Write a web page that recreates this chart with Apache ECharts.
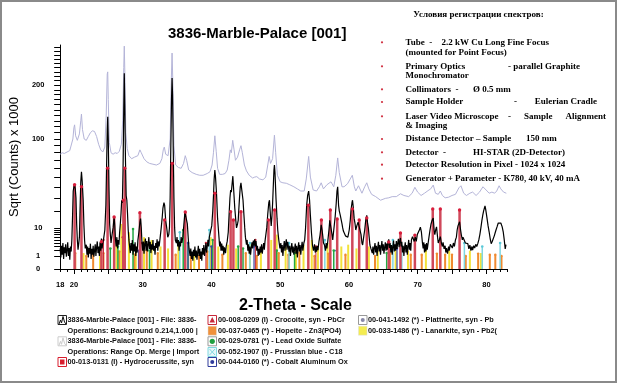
<!DOCTYPE html>
<html><head><meta charset="utf-8">
<script src="https://cdn.jsdelivr.net/npm/echarts@6/dist/echarts.min.js"></script>
<style>html,body{margin:0;padding:0;background:#fff}#c{width:618px;height:384px}</style>
</head><body><div id="c"></div>
<script>
// ---- axis definitions ----
const xTickLabels = [18, 20, 30, 40, 50, 60, 70, 80];
const xMinorTicks = [18,19,20,21,22,23,24,25,26,27,28,29,30,31,32,33,34,35,36,37,38,39,40,41,42,43,44,45,46,47,48,49,50,51,52,53,54,55,56,57,58,59,60,61,62,63,64,65,66,67,68,69,70,71,72,73,74,75,76,77,78,79,80,81,82,83];
const xMajorTicks = [20,25,30,35,40,45,50,55,60,65,70,75,80];
const yTickLabels = [0, 1, 10, 100, 200];
const yTickMarks = [0,1,2,3,4,5,6,7,8,9,10,20,30,40,50,60,70,80,90,100,110,120,130,140,150,160,170,180,190,200,210,220,230,240,250,260,270,280,290];
const xMin = 18, xMax = 83, yMaxCounts = 297;

// ---- measured pattern (background subtracted), [2theta, counts x1000] ----
const measured = [[18.0,2.5],[18.1,0.8],[18.2,3.2],[18.3,1.2],[18.4,4.0],[18.5,0.6],[18.6,2.8],[18.7,1.5],[18.8,3.6],[18.9,0.9],[19.0,2.2],[19.1,4.2],[19.2,1.0],[19.3,2.6],[19.4,0.5],[19.5,3.0],[19.6,1.8],
[19.7,5],[19.8,16],[19.9,36],[20.0,40],[20.1,42],[20.2,38],[20.3,30],[20.4,12],[20.5,5],[20.6,2.2],[20.7,3.8],
[20.8,6],[20.9,22],[21.0,45],[21.1,56],[21.2,46],[21.35,28],[21.45,12],[21.55,5],[21.65,2.5],
[21.8,3.5],[21.9,1.2],[22.0,3.0],[22.1,0.8],[22.2,2.6],[22.3,1.4],[22.4,3.8],[22.5,0.6],[22.6,2.4],[22.7,1.2],[22.8,3.2],[22.9,0.9],[23.0,2.0],[23.1,3.6],[23.2,1.0],[23.3,2.8],[23.4,4.5],[23.5,1.5],[23.6,3.0],[23.7,1.0],[23.8,4.2],[23.9,2.0],[24.0,5.5],[24.1,2.5],[24.2,4.0],
[24.3,5],[24.5,9],[24.65,24],[24.75,60],[24.85,115],[24.92,137],[25.0,100],[25.1,40],[25.2,12],[25.3,7],
[25.4,4],[25.55,7],[25.7,10],[25.85,16],[25.95,11],[26.05,5],[26.15,3],[26.25,6],[26.35,2.5],[26.45,5],[26.55,3.5],[26.65,8],[26.75,12],[26.85,18],[26.95,28],[27.05,26],[27.15,60],[27.25,150],[27.33,227],[27.4,160],[27.5,70],[27.6,32],[27.7,28],[27.8,18],[27.9,9],[28.0,5],[28.1,3],
[28.2,1.5],[28.3,4.0],[28.4,2.0],[28.5,5.0],[28.6,1.2],[28.7,3.6],[28.8,1.8],[28.9,4.2],[29.0,1.0],[29.1,3.0],[29.2,1.6],[29.3,4.8],[29.45,8],[29.6,13],[29.7,15],[29.8,10],[29.9,4],[30.0,2],[30.1,4.5],[30.2,1.4],[30.3,3.8],[30.4,5.5],[30.5,2.0],[30.6,4.6],[30.7,1.8],[30.8,3.4],[30.9,6],[31.0,2.4],[31.1,4.4],[31.2,1.5],[31.3,3.6],[31.4,2.2],[31.5,5.0],[31.6,2.0],[31.7,3.2],[31.8,1.2],[31.9,4.0],[32.0,2.6],[32.1,5.2],[32.2,2.0],[32.3,4.5],[32.4,3.0],
[32.55,6],[32.7,10],[32.85,16],[32.95,22],[33.1,26],[33.2,24],[33.35,14],[33.5,10],[33.65,6],[33.8,7],[33.9,10],[34.0,30],[34.1,90],[34.2,170],[34.28,216],[34.35,180],[34.45,85],[34.55,30],[34.65,10],[34.75,5],
[34.9,4],[35.0,6],[35.1,3],[35.2,5],[35.3,2],[35.4,4.5],[35.5,3],[35.6,6],[35.7,4],[35.85,6],[36.0,12],[36.15,19],[36.25,17],[36.4,18],[36.5,12],[36.65,5],[36.75,2.5],
[36.9,1.0],[37.0,2.5],[37.1,0.6],[37.2,1.8],[37.3,0.4],[37.4,2.2],[37.5,1.0],[37.6,3.0],[37.7,0.8],[37.8,2.0],[37.9,0.5],[38.0,1.6],[38.1,3.2],[38.2,1.0],[38.3,2.4],[38.4,0.6],[38.5,1.8],[38.6,0.4],[38.7,2.6],[38.8,1.2],[38.9,3.4],[39.0,1.0],[39.1,2.2],[39.2,4.0],[39.3,1.6],[39.4,3.0],[39.5,5.0],[39.6,3.0],
[39.7,6],[39.85,8],[40.05,11],[40.2,20],[40.3,31],[40.4,48],[40.5,58],[40.6,50],[40.75,33],[40.9,15],[41.1,6],[41.2,3],[41.3,4.5],[41.4,2],[41.5,3.8],[41.6,2],[41.7,3.2],[41.8,1.2],[41.9,2.8],[42.05,1.5],[42.15,3.0],[42.3,4.5],
[42.45,8],[42.6,20],[42.7,30],[42.8,37],[42.9,35],[43.0,42],[43.12,51],[43.25,36],[43.4,22],[43.55,14],[43.65,10],[43.8,12],[43.9,14],[44.0,22],[44.1,31],[44.2,40],[44.3,44],[44.4,38],[44.6,28],[44.75,16],[44.85,10],[44.95,6],
[45.1,3.5],[45.2,5],[45.3,2],[45.4,3.6],[45.5,1.4],[45.6,3.0],[45.7,1.2],[45.8,2.6],[45.9,4.2],[46.0,2.5],[46.1,4.8],[46.2,3.2],[46.3,5.2],[46.4,3.0],[46.5,4.6],[46.6,2.0],[46.7,3.2],[46.8,1.0],[46.9,2.4],[47.0,1.2],[47.1,3.0],[47.2,1.6],[47.3,3.6],[47.4,1.4],[47.5,2.6],[47.6,4.0],[47.7,2.2],[47.8,4.6],
[47.9,5],[48.05,10],[48.2,18],[48.35,26],[48.45,28],[48.6,16],[48.7,11],[48.8,16],[48.9,25],[49.0,40],[49.1,58],[49.17,64],[49.25,55],[49.4,29],[49.55,15],[49.65,9],[49.8,5],[49.97,2.5],
[50.1,4.0],[50.2,1.6],[50.3,3.4],[50.4,1.0],[50.5,2.8],[50.6,4.6],[50.7,2.0],[50.8,3.8],[50.9,5.2],[51.0,2.2],[51.1,4.4],[51.2,5.0],[51.3,1.8],[51.4,3.2],[51.5,1.0],[51.6,2.6],[51.7,4.0],[51.8,1.6],[51.9,3.0],[52.0,1.2],[52.1,2.4],[52.2,3.8],[52.3,1.4],[52.4,3.2],[52.5,0.8],[52.6,2.6],[52.7,4.2],[52.8,1.8],[52.9,3.4],[53.0,1.2],[53.1,2.8],[53.2,4.4],[53.3,2.0],[53.45,4.0],
[53.57,5],[53.7,10],[53.86,24],[54.0,32],[54.15,36],[54.28,28],[54.4,17],[54.55,8],[54.7,3.4],[54.85,2.0],[55.0,3.6],[55.1,1.6],[55.2,3.0],[55.3,1.8],[55.4,3.2],[55.5,2.1],
[55.65,4.5],[55.8,6.8],[55.97,11.5],[56.1,9],[56.2,6.5],[56.3,4],[56.45,3.4],[56.6,2],[56.7,4],[56.8,2.5],[56.93,4.5],[57.1,9],[57.22,14],[57.3,12],[57.4,11.5],[57.55,7],[57.65,5],[57.8,9],[58.0,16],[58.15,25],[58.27,36],[58.37,40],[58.5,24],[58.6,20],[58.75,17],[58.85,16],[59.0,12],[59.1,10],[59.2,8.5],[59.33,8],[59.5,6.5],[59.67,7],[59.85,6],
[60.05,9],[60.2,14],[60.3,20],[60.45,26],[60.53,28],[60.65,22],[60.77,15],[60.9,12],[61.0,9],[61.15,11],[61.34,13],[61.5,14],[61.6,12],[61.77,7],[61.9,4],[62.0,3.4],[62.15,6],[62.3,9],[62.45,14],[62.6,17],[62.7,13],[62.83,10],[62.95,6],[63.06,3.4],[63.2,2.5],
[63.4,1.5],[63.5,3.0],[63.6,1.2],[63.7,2.6],[63.8,4.0],[63.9,1.6],[64.0,3.2],[64.1,1.0],[64.2,2.8],[64.3,4.4],[64.4,1.8],[64.5,3.4],[64.6,1.2],[64.7,3.0],[64.8,4.6],[64.9,2.0],[65.0,3.6],[65.1,1.4],[65.2,2.8],[65.3,4.2],[65.4,2.0],[65.5,3.8],[65.6,2.2],[65.7,4.4],[65.8,5.2],[65.9,2.6],[66.0,4.0],[66.1,1.6],[66.2,3.4],[66.3,1.2],[66.4,3.0],[66.5,4.8],[66.6,1.8],[66.7,3.6],[66.8,2.0],[66.9,4.6],[67.0,2.4],[67.1,4.0],[67.2,5.4],[67.3,2.8],[67.4,4.6],[67.5,5.7],[67.6,3.0],[67.7,4.4],[67.8,1.6],[67.9,3.2],[68.0,1.0],[68.1,2.8],[68.2,4.2],[68.3,1.6],[68.4,3.4],[68.5,1.2],[68.6,3.0],[68.7,5.0],[68.8,2.2],[68.9,4.0],[69.0,2.0],
[69.1,5.0],[69.25,6.2],[69.4,6.5],[69.5,4.5],[69.65,6.0],[69.8,4.5],[69.95,7],[70.1,8],[70.25,9],[70.4,10.4],[70.55,8],[70.7,4],[70.8,2.5],[70.9,4.2],[71.0,1.6],[71.1,3.6],[71.2,1.8],[71.3,4.0],[71.4,2.2],[71.5,3.6],
[71.65,6],[71.8,9],[71.95,12],[72.1,14],[72.27,15.4],[72.4,9],[72.5,7],[72.62,9],[72.75,10.5],[72.9,6],[73.0,4],[73.15,5],[73.3,6.2],[73.45,4],[73.6,3.0],[73.7,4.2],[73.85,2.4],[74.0,3.2],[74.1,1.6],[74.2,2.6],[74.35,1.4],[74.5,3.0],[74.6,2.0],[74.75,3.6],[74.9,4.2],[75.05,2.6],[75.2,4.0],[75.35,3.0],
[75.5,5],[75.64,6],[75.75,9],[75.87,11],[76.0,12],[76.1,13.2],[76.25,9],[76.35,7],[76.5,5],[76.6,6],[76.7,5.5],[76.8,5.5],[76.95,4],[77.1,4.4],[77.3,3.8],[77.45,2.4],[77.6,3.4],[77.75,2.0],[77.9,3.0],[78.0,2.1],[78.15,3.2],[78.3,2.6],[78.45,3.6],[78.6,3.0],[78.75,3.8],
[78.9,5],[79.05,7],[79.2,10],[79.35,14],[79.47,17],[79.6,20],[79.72,22],[79.8,23.5],[79.9,21],[80.0,18],[80.1,15],[80.25,11],[80.4,8.2],[80.55,5.5],[80.7,3.8],[80.85,4.5],[81.0,5],[81.15,6.5],[81.3,8],[81.4,9],[81.55,10.5],[81.73,12.5],[81.85,13],[82.0,13.2],[82.1,12.5],[82.2,11.5],[82.3,10.5],[82.45,8.2],[82.6,5],[82.74,2.4],[82.85,3.5],[82.9,3.4]];

// ---- raw pattern (before background subtraction) ----
const rawPattern = [[18.0,78],[18.3,80],[18.6,79],[19.0,81],[19.4,83],[19.6,84],[19.85,100],[20.0,118],[20.1,123],[20.25,105],[20.5,98],[20.8,108],[21.0,130],[21.1,142],[21.25,115],[21.5,100],[21.8,98],[22.1,104],[22.4,110],[22.7,113],[23.0,112],[23.3,104],[23.6,92],[23.9,84],[24.2,81],[24.5,88],[24.7,140],[24.85,225],[24.92,230],[25.0,170],[25.15,95],[25.4,80],[25.7,78],[26.0,80],[26.3,79],[26.6,82],[26.9,92],[27.1,130],[27.25,240],[27.33,294],[27.42,220],[27.55,110],[27.75,86],[28.0,76],[28.4,72],[28.8,74],[29.3,76],[29.6,84],[29.8,80],[30.2,72],[30.6,68],[31.0,66],[31.5,65],[32.0,64],[32.5,66],[32.8,72],[33.0,84],[33.15,88],[33.35,78],[33.7,76],[34.0,100],[34.15,200],[34.28,276],[34.4,200],[34.55,90],[34.8,64],[35.2,61],[35.6,60],[35.95,66],[36.2,76],[36.4,70],[36.7,58],[37.2,55],[37.8,53],[38.3,52],[38.8,52],[39.4,54],[39.8,56],[40.1,64],[40.3,80],[40.5,105],[40.7,82],[40.9,60],[41.2,53],[41.6,53],[42.0,54],[42.3,58],[42.55,70],[42.75,84],[42.9,80],[43.1,98],[43.3,84],[43.5,70],[43.8,74],[44.1,84],[44.3,90],[44.5,80],[44.8,64],[45.1,57],[45.5,52],[46.0,49],[46.3,50],[46.6,50.5],[47.0,48],[47.5,47],[47.9,50],[48.2,64],[48.4,75],[48.6,66],[48.9,72],[49.17,106],[49.35,80],[49.6,52],[50.0,45],[50.4,44],[50.9,43.5],[51.4,42],[52.0,40],[52.5,38],[53.0,36],[53.5,36],[53.8,48],[54.15,75],[54.4,50],[54.8,37],[55.3,36],[55.7,40],[55.97,44],[56.3,38],[56.8,42],[57.4,45],[57.8,40],[58.1,52],[58.37,73],[58.6,55],[59.0,40],[59.3,40],[59.8,43],[60.2,48],[60.5,52],[60.8,40],[61.0,36],[61.4,41],[61.6,40],[61.9,34],[62.3,40],[62.6,44],[62.9,38],[63.3,33],[63.9,31],[64.6,28],[65.3,29.5],[65.8,30],[66.3,31],[66.9,31],[67.5,33.5],[68.0,32],[68.7,31],[69.2,34],[69.6,39.5],[70.0,35],[70.5,32],[71.0,34],[71.5,36.3],[71.9,38],[72.27,41.7],[72.6,34],[73.0,33],[73.3,36],[73.6,32],[74.0,30],[74.5,30.5],[75.0,32],[75.5,33],[76.0,39],[76.3,41],[76.7,34],[77.1,32],[77.6,34],[78.0,35],[78.5,32],[79.0,35],[79.5,40],[79.75,41],[80.1,36],[80.4,34],[80.8,35],[81.2,34],[81.5,36],[81.85,41],[82.1,38],[82.5,35],[82.9,34]];

// ---- reference patterns (stick positions, heights) ----
const hydrocerussite = [[20.1,42],[21.1,40],[24.0,4.4],[24.9,60],[25.85,16],[27.2,28],[27.4,60],[29.6,18.8],[33.2,14.2],[34.3,66],[36.2,19.2],[40.5,34],[42.8,19.4],[43.2,14.2],[44.3,19.4],[48.3,14.2],[49.2,20.6],[54.1,24],[56.0,14.2],[57.3,20.6],[58.3,14.8],[60.5,21.3],[61.5,14.2],[62.6,15.4],[65.8,4.3],[67.5,7.7],[69.6,6.8],[72.2,21.3],[73.3,21.3],[76.1,20.6]];
const leadOxideSulfate = [[25.3,2.5],[26.4,3],[28.6,9.5],[31.0,2],[35.9,9],[36.6,4],[40.2,5],[43.9,3],[44.6,2.5],[49.5,2],[52.1,1.5],[57.8,2],[65.5,1.5]];
const lanarkite = [[21.4,1.5],[23.8,3],[26.2,4],[26.9,12],[28.0,8],[29.0,3],[30.2,6],[31.3,5],[32.6,3],[33.7,2.5],[35.2,4],[37.5,2],[39.9,6],[41.0,3],[42.4,3.5],[43.6,2.5],[45.6,4],[47.2,2],[48.7,5],[49.5,7],[50.8,3],[52.3,2],[53.4,3.5],[54.6,5],[55.5,3],[56.9,4],[58.9,3],[59.9,3.5],[61.1,2.5],[62.9,3],[64.2,2],[66.8,3],[68.6,2],[71.2,2.5],[74.6,2],[77.6,2],[79.2,1.5]];
const hopeite = [[20.2,1.5],[21.8,1],[22.8,2],[24.3,1.5],[26.6,1.8],[28.8,1.2],[30.6,2],[32.2,1.5],[34.8,1.2],[37.0,1.5],[38.2,1],[39.4,1.8],[41.6,1.2],[45.0,1.5],[46.6,1],[49.8,1.5],[51.2,1.2],[52.8,1.6],[55.0,1],[57.0,1.4],[59.5,1.2],[63.8,1],[66.0,1.5],[69.0,1.2],[70.6,1.2],[72.8,1.4],[74.0,1.2],[75.0,1.2],[77.0,1],[78.8,1.4],[80.5,1.2],[81.3,1.2],[82.2,1]];
const prussianBlue = [[35.4,8],[39.7,9],[45.6,4],[51.3,4],[56.5,5],[66.4,5],[67.7,3],[76.8,4],[79.4,3],[82.0,4]];
const cobaltAluminum = [[29.4,2],[36.6,4],[40.0,3],[46.2,3],[58.2,2],[67.0,2.5]];
const crocoite = [[24.3,5],[27.1,6],[29.9,4],[39.2,4],[46.4,5],[55.2,3]];

// ---- texts ----
const chartTitle = '3836-Marble-Palace [001]';
const yAxisName = 'Sqrt (Counts) x 1000';
const xAxisName = '2-Theta - Scale';
const infoHeading = 'Условия регистрации спектров:';
// [text, x, align] parts, then y, then bullet flag
const infoLines = [
  [['Tube  -', 405.5], ['2.2 kW Cu Long Fine Focus', 441.5], 42.3, true],
  [['(mounted for Point Focus)', 405.5], 52.3, false],
  [['Primary Optics', 405.5], ['- parallel Graphite', 580, 'right'], 66.3, true],
  [['Monochromator', 405.5], 76, false],
  [['Collimators  -', 405.5], ['Ø 0.5 mm', 473], 89.3, true],
  [['Sample Holder', 405.5], ['-', 514], ['Eulerian Cradle', 597, 'right'], 102, true],
  [['Laser Video Microscope', 405.5], ['-', 508], ['Sample', 524], ['Alignment', 606, 'right'], 116.3, true],
  [['& Imaging', 405.5], 126, false],
  [['Distance Detector – Sample', 405.5], ['150 mm', 526], 139, true],
  [['Detector  -', 405.5], ['HI-STAR (2D-Detector)', 473], 152.3, true],
  [['Detector Resolution in Pixel - 1024 x 1024', 405.5], 164.7, true],
  [['Generator + Parameter - K780, 40 kV, 40 mA', 405.5], 178.7, true]
];
const legendItems = [
  {col:0,row:0,icon:'chart',color:'#111',text:'3836-Marble-Palace [001] - File: 3836-'},
  {col:0,row:1,icon:'none',color:'#111',text:'Operations: Background 0.214,1.000 |'},
  {col:0,row:2,icon:'chartLight',color:'#bbb',text:'3836-Marble-Palace [001] - File: 3836-'},
  {col:0,row:3,icon:'none',color:'#111',text:'Operations: Range Op. Merge | Import'},
  {col:0,row:4,icon:'square',color:'#d81e2e',text:'00-013-0131 (I) - Hydrocerussite, syn'},
  {col:1,row:0,icon:'triangle',color:'#c8283a',text:'00-008-0209 (I) - Crocoite, syn - PbCr'},
  {col:1,row:1,icon:'fill',color:'#f0903a',text:'00-037-0465 (*) - Hopeite - Zn3(PO4)'},
  {col:1,row:2,icon:'circle',color:'#20a040',text:'00-029-0781 (*) - Lead Oxide Sulfate'},
  {col:1,row:3,icon:'cross',color:'#80d8e0',text:'00-052-1907 (I) - Prussian blue - C18'},
  {col:1,row:4,icon:'dot',color:'#303c9c',text:'00-044-0160 (*) - Cobalt Aluminum Ox'},
  {col:2,row:0,icon:'dotGray',color:'#8888a8',text:'00-041-1492 (*) - Plattnerite, syn - Pb'},
  {col:2,row:1,icon:'fill',color:'#f4ec50',text:'00-033-1486 (*) - Lanarkite, syn - Pb2('}
];

// ---- build ----
const sq = v => Math.sqrt(v);
function stickSeries(name, data, color, width, dotR, dotColor, z) {
  return {
    type: 'custom', name, coordinateSystem: 'cartesian2d', z: z, silent: true,
    data: data.map(d => [d[0], sq(d[1])]),
    renderItem(params, api) {
      const x = api.value(0), y = api.value(1);
      const p0 = api.coord([x, 0]), p1 = api.coord([x, y]);
      const ch = [{type:'line', shape:{x1:p0[0],y1:p0[1],x2:p1[0],y2:p1[1]}, style:{stroke:color,lineWidth:width}}];
      if (dotR) ch.push({type:'circle', shape:{cx:p1[0],cy:p1[1],r:dotR}, style:{fill:dotColor}});
      return {type:'group', children: ch};
    }
  };
}

const graphics = [];
graphics.push({type:'rect', shape:{x:1,y:1,width:615,height:381}, style:{fill:'none',stroke:'#8a8a8a',lineWidth:2}, z:100});
function txt(s, x, y, font, fill, align) {
  graphics.push({type:'text', z:50, style:{text:s, x:x, y:y, font:font, fill:fill||'#000', textAlign:align||'left', align:align||'left', textVerticalAlign:'middle', verticalAlign:'middle'}});
}
txt(chartTitle, 168, 34, 'bold 15px "Liberation Sans", Arial', '#000');
txt(xAxisName, 295.5, 305.5, 'bold 16px "Liberation Sans", Arial', '#000', 'center');
const serif = 'bold 9px "Liberation Serif", "Times New Roman", serif';
txt(infoHeading, 478.5, 15, serif, '#000', 'center');
infoLines.forEach(line => {
  const parts = line.filter(p => Array.isArray(p));
  const y = line.find(p => typeof p === 'number');
  const bullet = line[line.length - 1] === true;
  parts.forEach(p => txt(p[0], p[1], y, serif, '#000', p[2] || 'left'));
  if (bullet) graphics.push({type:'circle', z:50, shape:{cx:382, cy:y, r:1.1}, style:{fill:'#d03040'}});
});
const colIconX = [58, 208, 358.5], colTextX = [67.5, 218, 368];
const rowY = [320, 330.7, 341.3, 352, 362];
const lgFont = 'bold 7.3px "Liberation Sans", Arial';
legendItems.forEach(it => {
  const x = colIconX[it.col], y = rowY[it.row], c = it.color;
  const box = (stroke, fill) => graphics.push({type:'rect', z:50, shape:{x:x, y:y-4.5, width:8.5, height:9}, style:{fill:fill||'#fff', stroke:stroke, lineWidth:1}});
  if (it.icon === 'chart' || it.icon === 'chartLight') {
    box(it.icon === 'chart' ? '#222' : '#ccc');
    graphics.push({type:'polyline', z:51, shape:{points:[[x+1,y+4],[x+2.5,y],[x+3.5,y+3],[x+5,y-3.5],[x+6.5,y+2],[x+8,y+4]]}, style:{stroke:it.icon === 'chart' ? '#111' : '#ccc', fill:'none', lineWidth:1}});
  } else if (it.icon === 'square') {
    box(c); graphics.push({type:'rect', z:51, shape:{x:x+2, y:y-2.5, width:4.5, height:5}, style:{fill:c}});
  } else if (it.icon === 'triangle') {
    box(c); graphics.push({type:'polygon', z:51, shape:{points:[[x+4.25,y-3],[x+7,y+2.5],[x+1.5,y+2.5]]}, style:{fill:c}});
  } else if (it.icon === 'fill') {
    graphics.push({type:'rect', z:50, shape:{x:x, y:y-4.5, width:8.5, height:9}, style:{fill:c, stroke:'#ddd', lineWidth:0.5}});
  } else if (it.icon === 'circle') {
    box('#999'); graphics.push({type:'circle', z:51, shape:{cx:x+4.25, cy:y, r:2.6}, style:{fill:c}});
  } else if (it.icon === 'cross') {
    box(c, '#e6f7f9'); graphics.push({type:'polyline', z:51, shape:{points:[[x+1.5,y-3],[x+7,y+3]]}, style:{stroke:c,lineWidth:1}});
    graphics.push({type:'polyline', z:51, shape:{points:[[x+7,y-3],[x+1.5,y+3]]}, style:{stroke:c,lineWidth:1}});
  } else if (it.icon === 'dot') {
    box(c); graphics.push({type:'circle', z:51, shape:{cx:x+4.25, cy:y, r:2}, style:{fill:c}});
  } else if (it.icon === 'dotGray') {
    box('#999'); graphics.push({type:'circle', z:51, shape:{cx:x+4.25, cy:y, r:2}, style:{fill:c}});
  }
  txt(it.text, colTextX[it.col], y, lgFont, '#111');
});

const option = {
  animation: false,
  backgroundColor: '#fff',
  grid: {left: 57, right: 111, top: 45, bottom: 115, containLabel: false},
  xAxis: [{
    type: 'value', min: xMin, max: xMax,
    axisLine: {show: true, lineStyle: {color: '#000', width: 1}},
    axisTick: {show: true, customValues: xMinorTicks, length: 3, lineStyle: {color: '#000'}},
    axisLabel: {customValues: xTickLabels, margin: 12, fontSize: 7.5, fontWeight: 'bold', color: '#000', fontFamily: '"Liberation Sans", Arial'},
    splitLine: {show: false}
  }, {
    type: 'value', min: xMin, max: xMax, position: 'bottom',
    axisLine: {show: false},
    axisTick: {show: true, customValues: xMajorTicks, length: 5, lineStyle: {color: '#000'}},
    axisLabel: {show: false}, splitLine: {show: false}
  }],
  yAxis: {
    type: 'value', min: 0, max: sq(yMaxCounts),
    name: yAxisName, nameLocation: 'middle', nameRotate: 90, nameGap: 35,
    nameTextStyle: {fontSize: 13, color: '#000', fontFamily: '"Liberation Sans", Arial'},
    axisLine: {show: true, lineStyle: {color: '#000', width: 1}},
    axisTick: {show: true, customValues: yTickMarks.map(sq), length: 6, lineStyle: {color: '#000'}},
    axisLabel: {customValues: yTickLabels.map(sq), formatter: v => String(Math.round(v * v)), align: 'center', margin: 22, fontSize: 7.5, fontWeight: 'bold', color: '#000', fontFamily: '"Liberation Sans", Arial'},
    splitLine: {show: false}
  },
  graphic: graphics,
  series: [
    stickSeries('00-033-1486 Lanarkite', lanarkite, '#f2e23a', 2, 0, null, 2),
    stickSeries('00-037-0465 Hopeite', hopeite, '#f08a30', 2, 1.2, '#f08a30', 2),
    stickSeries('00-029-0781 Lead Oxide Sulfate', leadOxideSulfate, '#22a844', 1.5, 1.3, '#22a844', 2),
    stickSeries('00-052-1907 Prussian blue', prussianBlue, '#7fd6e0', 1.5, 1.3, '#5cc8d8', 2),
    stickSeries('00-044-0160 Cobalt Aluminum Ox', cobaltAluminum, '#3a44a0', 1.2, 1.2, '#3a44a0', 2),
    stickSeries('00-008-0209 Crocoite', crocoite, '#c8283a', 1, 1.2, '#c8283a', 2),
    {type: 'line', name: 'raw', data: rawPattern.map(d => [d[0], sq(d[1])]), showSymbol: false, smooth: false,
      lineStyle: {color: '#b4b4d8', width: 1}, z: 3, silent: true},
    stickSeries('00-013-0131 Hydrocerussite', hydrocerussite, '#d0485a', 2.5, 0, null, 4),
    {type: 'line', name: 'measured', data: measured.map(d => [d[0], sq(d[1])]), showSymbol: false, smooth: false,
      lineStyle: {color: '#000', width: 1.2}, z: 5, silent: true},
    stickSeries('Hydrocerussite tops', hydrocerussite, 'rgba(0,0,0,0)', 0, 1.7, '#d81e3c', 6)
  ]
};
const chart = echarts.init(document.getElementById('c'), null, {renderer: 'canvas'});
chart.setOption(option);
</script>
</body></html>
